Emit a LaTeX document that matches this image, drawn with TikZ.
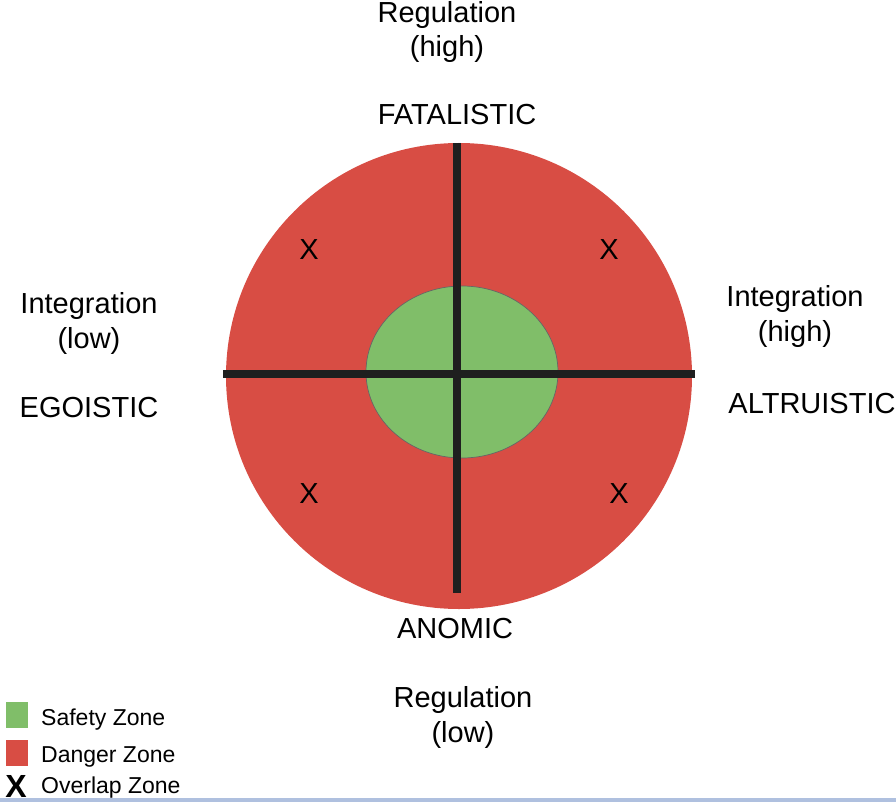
\documentclass[tikz,border=0pt]{standalone}
\usepackage{fontspec}
\setmainfont{Liberation Sans}
\usetikzlibrary{positioning}
\definecolor{dangerred}{RGB}{216,77,68}
\definecolor{safegreen}{RGB}{128,190,105}
\definecolor{stripblue}{RGB}{175,192,223}

\begin{document}
\begin{tikzpicture}[
                x=1pt, y=-1pt,
                axislabel/.style={align=center, anchor=base, inner sep=0pt, font=\fontsize{29}{34.5}\selectfont},
                overlap/.style={inner sep=0pt, font=\fontsize{29}{29}\selectfont},
                keytext/.style={anchor=base west, inner sep=0pt, font=\fontsize{23}{23}\selectfont},
                swatch/.style={rectangle, inner sep=0pt, minimum width=22pt, minimum height=26pt},
                axis/.style={line width=8pt, draw=black!88}
            ]
            \useasboundingbox (0,0) rectangle (896,802);
            \fill[stripblue] (0,798) rectangle (896,802);

            % zones
            \fill[dangerred] (459,376) circle[radius=233];
            \filldraw[fill=safegreen, draw=black!60, line width=0.7pt] (462,372) ellipse[x radius=96, y radius=86];

            % axes
            \coordinate (top) at (457,143);
            \coordinate (bottom) at (457,593);
            \coordinate (left) at (223,374);
            \coordinate (right) at (695,374);
            \draw[axis] (left) -- (right);
            \draw[axis] (top) -- (bottom);

            % overlap marks
            \node[overlap] (xnw) at (309,250) {X};
            \node[overlap] (xne) at (609,250) {X};
            \node[overlap] (xsw) at (309,494) {X};
            \node[overlap] (xse) at (619,494) {X};

            % axis labels (base = last line)
            \node[axislabel] (reghigh) at (447,57) {Regulation\\(high)};
            \node[axislabel] (fatal) at (457,125) {FATALISTIC};
            \node[axislabel] (anomic) at (455,638) {ANOMIC};
            \node[axislabel] (reglow) at (463,742) {Regulation\\(low)};
            \node[axislabel] (intlow) at (89,348) {Integration\\(low)};
            \node[axislabel] (egoistic) at (89,417) {EGOISTIC};
            \node[axislabel] (inthigh) at (795,341) {Integration\\(high)};
            \node[axislabel] (altruistic) at (812,413) {ALTRUISTIC};

            % legend
            \node[swatch, fill=safegreen] (safekey) at (17,715) {};
            \node[swatch, fill=dangerred] (dangerkey) at (17,752.5) {};
            \node[overlap, font=\fontsize{32}{32}\selectfont\bfseries] (overlapkey) at (16,786) {X};
            \node[keytext] (safetext) at (41,725) {Safety Zone};
            \node[keytext] (dangertext) at (41,762) {Danger Zone};
            \node[keytext] (overlaptext) at (41,793) {Overlap Zone};
        \end{tikzpicture}
\end{document}
